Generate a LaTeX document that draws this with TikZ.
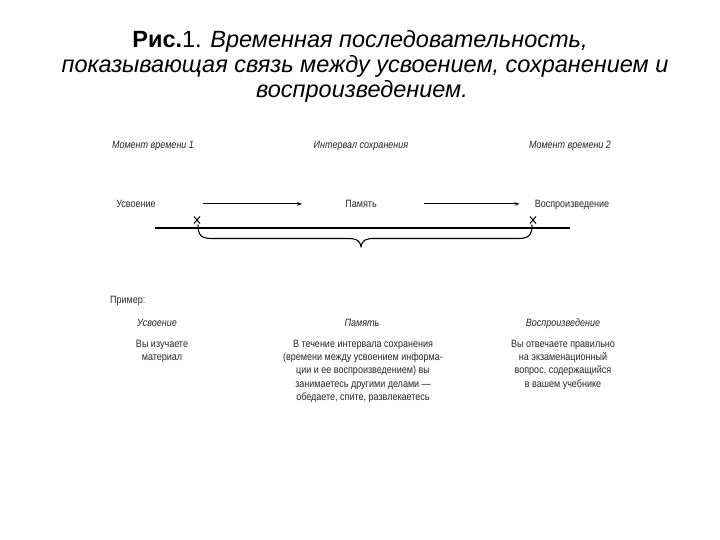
\documentclass[tikz,border=0pt]{standalone}
\usepackage{fontspec}
\setmainfont{Liberation Sans}
\newfontfamily\nar[FakeStretch=0.85]{Liberation Sans}
\usetikzlibrary{arrows.meta}
\begin{document}
\begin{tikzpicture}[x=1pt,y=-1pt,
  ttl/.style={font=\fontsize{23.5}{25}\selectfont, align=center, inner sep=0, anchor=base},
  lbl/.style={font=\nar\fontsize{10.6}{13.4}\selectfont, inner sep=0, text=black!85, align=center, anchor=base},
  ilbl/.style={lbl, font=\nar\itshape\fontsize{10.6}{13.4}\selectfont},
  flow/.style={line width=1.1pt, -{Stealth[length=5pt,width=3.5pt]}},
  cross/.style={line width=1pt},
  axis/.style={line width=1.4pt},
  brace/.style={line width=1.1pt, line join=round, line cap=round}]
\useasboundingbox (0,0) rectangle (720,540);
\fill[white] (0,0) rectangle (720,540);

\node[ttl] (title1) at (360,48) {\textbf{Рис.}1. \textit{Временная последовательность,}};
\node[ttl] (title2) at (365,73) {\textit{показывающая связь между усвоением, сохранением и}};
\node[ttl] (title3) at (362,98) {\textit{воспроизведением.}};

\node[ilbl] (m1) at (153,148.5) {Момент времени 1};
\node[ilbl] (int) at (361,148.5) {Интервал сохранения};
\node[ilbl] (m2) at (570,148.5) {Момент времени 2};

\node[lbl] (usv) at (136,207.5) {Усвоение};
\node[lbl] (pam) at (361,207.5) {Память};
\node[lbl] (vos) at (572,207.5) {Воспроизведение};

\draw[flow, shorten <=47pt, shorten >=43pt] (usv.east) -- (usv.east -| pam.west);
\draw[flow, shorten <=47pt, shorten >=15pt] (pam.east) -- (pam.east -| vos.west);

\coordinate (xa) at (197,220);
\coordinate (xb) at (533,220);
\draw[cross] ([shift={(-3,-3.5)}]xa) -- ([shift={(3,3.5)}]xa) ([shift={(3,-3.5)}]xa) -- ([shift={(-3,3.5)}]xa);
\draw[cross] ([shift={(-3,-3.5)}]xb) -- ([shift={(3,3.5)}]xb) ([shift={(3,-3.5)}]xb) -- ([shift={(-3,3.5)}]xb);

\coordinate (la) at (155,228);
\coordinate (lb) at (570,228);
\draw[axis] (la) -- (lb);

\coordinate (tip) at (361,247);
\draw[brace] (198,225) .. controls (198,236) and (202,238.5) .. (212,238.5)
  -- (348,238.5) .. controls (356,238.5) and (360,240) .. (tip)
  .. controls (362,240) and (366,238.5) .. (374,238.5)
  -- (518,238.5) .. controls (528,238.5) and (532,236) .. (532,225);

\node[lbl, anchor=base west] (pr) at (110,303.5) {Пример:};
\node[ilbl] (eu) at (157,326.5) {Усвоение};
\node[ilbl] (ep) at (362,326.5) {Память};
\node[ilbl] (ev) at (563,326.5) {Воспроизведение};

\node[lbl] (t1) at (162,360.4) {Вы изучаете\\материал};
\node[lbl] (t2) at (363,400.6) {В течение интервала сохранения\\(времени между усвоением информа-\\ции и ее воспроизведением) вы\\занимаетесь другими делами —\\обедаете, спите, развлекаетесь};
\node[lbl] (t3) at (563,387.2) {Вы отвечаете правильно\\на экзаменационный\\вопрос, содержащийся\\в вашем учебнике};
\end{tikzpicture}
\end{document}
